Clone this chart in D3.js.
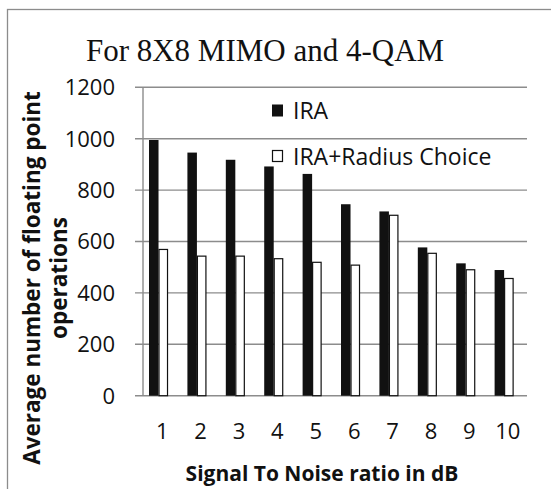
<!DOCTYPE html>
<html>
<head>
<meta charset="utf-8">
<script src="https://cdn.jsdelivr.net/npm/d3@7"></script>
<style>
  body { margin: 0; background: #fff; }
  svg { display: block; }
</style>
</head>
<body>
<div id="app"></div>
<script>
// data
const snr = ['1', '2', '3', '4', '5', '6', '7', '8', '9', '10'];
const seriesNames = ['IRA', 'IRA+Radius Choice'];
const ira = [995, 946, 918, 892, 863, 745, 717, 577, 515, 489];
const iraRadius = [571, 545, 545, 535, 521, 510, 704, 556, 492, 458];
const yTicks = [0, 200, 400, 600, 800, 1000, 1200];

const W = 551, H = 489;
const sans = '"Open Sans", sans-serif';
const gridColor = '#8c8c8c';

const svg = d3.select('#app').append('svg')
  .attr('width', W)
  .attr('height', H);

// outer chart frame (runs off the right and bottom edges)
svg.append('rect')
  .attr('x', 7.5).attr('y', 9.5)
  .attr('width', W).attr('height', H)
  .attr('fill', 'none')
  .attr('stroke', gridColor)
  .attr('stroke-width', 1.3);

const x0 = d3.scaleBand().domain(snr).range([143, 527]);
const x1 = d3.scaleBand().domain(seriesNames)
  .range([0, x0.bandwidth()])
  .paddingOuter(1.02)
  .align(0.31);
const y = d3.scaleLinear().domain([0, 1200]).range([395.7, 87.3]);

// gridlines + ticks
svg.append('g')
  .selectAll('line')
  .data(yTicks)
  .join('line')
    .attr('x1', 135).attr('x2', 527)
    .attr('y1', d => y(d)).attr('y2', d => y(d))
    .attr('stroke', gridColor)
    .attr('stroke-width', 1.4);

svg.append('line')
  .attr('x1', 143).attr('x2', 143)
  .attr('y1', y(1200)).attr('y2', y(0))
  .attr('stroke', gridColor)
  .attr('stroke-width', 1.4);

// y tick labels
svg.append('g')
  .selectAll('text')
  .data(yTicks)
  .join('text')
    .attr('x', 115)
    .attr('y', d => y(d))
    .attr('dy', '0.36em')
    .attr('text-anchor', 'end')
    .style('font-family', sans)
    .style('font-size', '22px')
    .attr('fill', '#111')
    .text(d => d);

// x tick labels
svg.append('g')
  .selectAll('text')
  .data(snr)
  .join('text')
    .attr('x', d => x0(d) + x0.bandwidth() / 2)
    .attr('y', 439)
    .attr('text-anchor', 'middle')
    .style('font-family', sans)
    .style('font-size', '22px')
    .attr('fill', '#111')
    .text(d => d);

// bars
const bw = x1.bandwidth();
const groups = svg.append('g')
  .selectAll('g')
  .data(snr)
  .join('g')
    .attr('transform', d => `translate(${x0(d)},0)`);

groups.append('rect')
  .attr('x', x1(seriesNames[0]))
  .attr('y', (d, i) => y(ira[i]))
  .attr('width', bw)
  .attr('height', (d, i) => y(0) - y(ira[i]))
  .attr('fill', '#111');

groups.append('rect')
  .attr('x', x1(seriesNames[1]) + 0.5)
  .attr('y', (d, i) => y(iraRadius[i]) + 0.5)
  .attr('width', bw - 1)
  .attr('height', (d, i) => y(0) - y(iraRadius[i]) - 0.5)
  .attr('fill', '#fff')
  .attr('stroke', '#111')
  .attr('stroke-width', 1.2);

// legend
const legend = svg.append('g')
  .selectAll('g')
  .data(seriesNames)
  .join('g')
    .attr('transform', (d, i) => `translate(272,${111 + i * 46})`);

legend.append('rect')
  .attr('x', (d, i) => i ? 0.5 : 0)
  .attr('y', -6.5)
  .attr('width', (d, i) => i ? 10 : 11)
  .attr('height', (d, i) => i ? 11 : 12)
  .attr('fill', (d, i) => i ? '#fff' : '#111')
  .attr('stroke', (d, i) => i ? '#111' : 'none')
  .attr('stroke-width', 1.2);

legend.append('text')
  .attr('x', 21)
  .attr('y', 0)
  .attr('dy', '0.36em')
  .style('font-family', sans)
  .style('font-size', '23px')
  .attr('fill', '#111')
  .text(d => d);

// title
svg.append('text')
  .attr('x', 265)
  .attr('y', 61)
  .attr('text-anchor', 'middle')
  .style('font-family', '"Liberation Serif", "Times New Roman", serif')
  .style('font-size', '31px')
  .attr('fill', '#111')
  .text('For 8X8 MIMO and 4-QAM');

// axis titles
svg.append('text')
  .attr('x', 322)
  .attr('y', 481)
  .attr('text-anchor', 'middle')
  .style('font-family', sans)
  .style('font-size', '21px')
  .style('font-weight', 'bold')
  .attr('fill', '#111')
  .text('Signal To Noise ratio in dB');

const yTitle = svg.append('text')
  .attr('transform', 'translate(40,278) rotate(-90)')
  .attr('text-anchor', 'middle')
  .style('font-family', sans)
  .style('font-size', '22.5px')
  .style('font-weight', 'bold')
  .attr('fill', '#111');
yTitle.append('tspan').attr('x', 0).attr('y', 0).text('Average number of floating point');
yTitle.append('tspan').attr('x', 0).attr('y', 27).text('operations');
</script>
</body>
</html>
